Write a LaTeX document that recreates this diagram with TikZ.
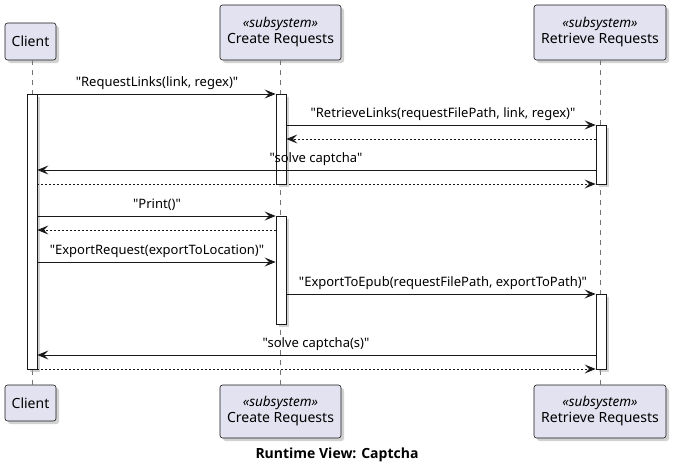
\documentclass[tikz,border=0pt]{standalone}
\usepackage{fontspec}
\setmainfont{Noto Sans}[Ligatures=TeXReset]
\newfontfamily\titlefont{Open Sans}[Ligatures=TeXReset]
\usetikzlibrary{arrows.meta,calc}
\definecolor{partfill}{HTML}{E2E2F0}
\definecolor{lineclr}{HTML}{181818}
\newcommand{\stereotxt}{\fontsize{13.5}{15}\selectfont\itshape}
\tikzset{
  x=1pt, y=-1pt,
  part/.style={draw=lineclr, fill=partfill, rounded corners=2.5pt, line width=0.6pt,
    inner sep=0pt, font=\fontsize{14}{16}\selectfont, align=center},
  shadowbox/.style={fill=black!35, opacity=0.5, rounded corners=2.5pt},
  life/.style={draw=black!55, line width=0.6pt, dash pattern=on 5pt off 5pt},
  act/.style={draw=lineclr, fill=white, line width=0.8pt, minimum width=10pt, inner sep=0pt, anchor=north},
  msg/.style={draw=lineclr, line width=0.8pt, -{Stealth[length=11pt,width=9pt,inset=4.5pt]}},
  ret/.style={msg, dash pattern=on 2pt off 2pt},
  lbl/.style={font=\fontsize{13}{15}\selectfont, inner sep=0pt, anchor=base},
}
\newcommand{\partbox}[6]{%
  \fill[shadowbox] (#2+3,#3+3) rectangle (#4+3,#5+3);
  \node[part, minimum width=#4-#2, minimum height=#5-#3] (#1) at ({(#2+#4)/2},{(#3+#5)/2}) {#6};
}
\newcommand{\actbox}[4]{%
  \fill[black!35, opacity=0.5] (#2-2,#3+3) rectangle (#2+8,#4+3);
  \node[act, minimum height=#4-#3] (#1) at (#2,#3) {};
}
\begin{document}
\begin{tikzpicture}
\useasboundingbox (0,0) rectangle (676,469);
\fill[white] (0,0) rectangle (676,469);

% participants
\partbox{cT}{5}{23}{56}{60}{Client}
\partbox{crT}{220}{5}{341}{60}{{\stereotxt «subsystem»}\\[0pt]Create Requests}
\partbox{rrT}{534}{5}{666}{60}{{\stereotxt «subsystem»}\\[0pt]Retrieve Requests}
\partbox{cB}{5}{385}{56}{421}{Client}
\partbox{crB}{220}{385}{341}{438}{{\stereotxt «subsystem»}\\[0pt]Create Requests}
\partbox{rrB}{534}{385}{666}{438}{{\stereotxt «subsystem»}\\[0pt]Retrieve Requests}

% lifelines
\draw[life] (cT.south -| 32,0) -- (cB.north -| 32,0);
\draw[life] (crT.south) -- (crB.north);
\draw[life] (rrT.south) -- (rrB.north);

% activations
\actbox{aC}{32}{94}{369}
\actbox{aCR1}{281}{94}{184}
\actbox{aRR1}{601}{125}{184}
\actbox{aCR2}{281}{216}{324}
\actbox{aRR2}{601}{294}{369}

% messages
\draw[msg] (aC.east |- 0,94) -- (aCR1.west |- 0,94);
\node[lbl] (l1) at (157,86) {"RequestLinks(link, regex)"};

\draw[msg] (aCR1.east |- 0,125) -- (aRR1.west |- 0,125);
\node[lbl] (l2) at (443,117) {"RetrieveLinks(requestFilePath, link, regex)"};

\draw[ret] (aRR1.west |- 0,139) -- (aCR1.east |- 0,139);

\draw[msg] (aRR1.west |- 0,170) -- (aC.east |- 0,170);
\node[lbl] (l4) at (316,162) {"solve captcha"};

\draw[ret] (aC.east |- 0,184) -- (aRR1.west |- 0,184);

\draw[msg] (aC.east |- 0,216) -- (aCR2.west |- 0,216);
\node[lbl] (l6) at (157,208) {"Print()"};

\draw[ret] (aCR2.west |- 0,230) -- (aC.east |- 0,230);

\draw[msg] (aC.east |- 0,262) -- (aCR2.west |- 0,262);
\node[lbl] (l8) at (157,254) {"ExportRequest(exportToLocation)"};

\draw[msg] (aCR2.east |- 0,294) -- (aRR2.west |- 0,294);
\node[lbl] (l9) at (443,286) {"ExportToEpub(requestFilePath, exportToPath)"};

\draw[msg] (aRR2.west |- 0,355) -- (aC.east |- 0,355);
\node[lbl] (l10) at (316,347) {"solve captcha(s)"};

\draw[ret] (aC.east |- 0,369) -- (aRR2.west |- 0,369);

% title
\node[font=\titlefont\fontsize{14}{16}\selectfont\bfseries, inner sep=0pt, anchor=base] (title) at (337,458) {Runtime View: Captcha};
\end{tikzpicture}
\end{document}
